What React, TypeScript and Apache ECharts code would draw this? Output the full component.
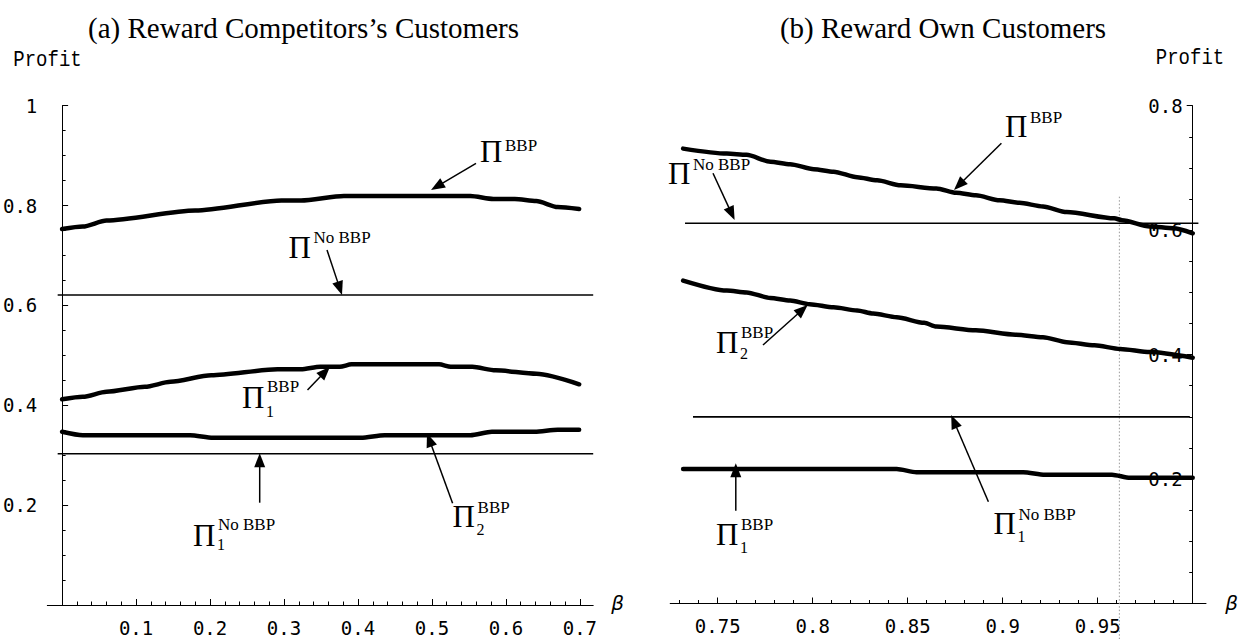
import React, { useEffect, useRef } from 'react';
import * as echarts from 'echarts';

// ---------- texts ----------
const leftTitle = '(a) Reward Competitors’s Customers';
const rightTitle = '(b) Reward Own Customers';
const yName = 'Profit';
const xName = 'β';

// ---------- tick values ----------
const leftXMajor = [0.1, 0.2, 0.3, 0.4, 0.5, 0.6, 0.7];
const leftXMinor = [0.02, 0.04, 0.06, 0.08, 0.12, 0.14, 0.16, 0.18, 0.22, 0.24, 0.26, 0.28, 0.32, 0.34, 0.36, 0.38, 0.42, 0.44, 0.46, 0.48, 0.52, 0.54, 0.56, 0.58, 0.62, 0.64, 0.66, 0.68];
const leftYMajor = [0.2, 0.4, 0.6, 0.8, 1];
const leftYMinor = [0.05, 0.1, 0.15, 0.25, 0.3, 0.35, 0.45, 0.5, 0.55, 0.65, 0.7, 0.75, 0.85, 0.9, 0.95];
const rightXMajor = [0.75, 0.8, 0.85, 0.9, 0.95];
const rightXMinor = [0.73, 0.74, 0.76, 0.77, 0.78, 0.79, 0.81, 0.82, 0.83, 0.84, 0.86, 0.87, 0.88, 0.89, 0.91, 0.92, 0.93, 0.94, 0.96, 0.97, 0.98, 0.99];
const rightYMajor = [0.2, 0.4, 0.6, 0.8];
const rightYMinor = [0.05, 0.1, 0.15, 0.25, 0.3, 0.35, 0.45, 0.5, 0.55, 0.65, 0.7, 0.75];

// ---------- axis ranges ----------
const leftXRange = [-0.02, 0.718];
const leftYRange = [0, 1];
const rightXRange = [0.725, 1.007];
const rightYRange = [0, 0.8];
const rightYAxisAt = 1.0;

// ---------- (a) Reward Competitors's Customers ----------
const aBBPx = [0, 0.028, 0.06, 0.18, 0.2965, 0.323, 0.381, 0.552, 0.583, 0.612, 0.641, 0.67, 0.699];
const aBBPy = [0.753, 0.758, 0.77, 0.79, 0.81, 0.81, 0.819, 0.819, 0.813, 0.813, 0.809, 0.797, 0.793];
const aBBP1x = [0, 0.028, 0.06, 0.112, 0.1465, 0.2017, 0.2912, 0.3228, 0.3491, 0.3755, 0.3912, 0.5097, 0.5255, 0.5545, 0.586, 0.6413, 0.699];
const aBBP1y = [0.412, 0.417, 0.427, 0.437, 0.447, 0.46, 0.472, 0.472, 0.477, 0.477, 0.482, 0.482, 0.477, 0.477, 0.47, 0.463, 0.442];
const aBBP2x = [0, 0.028, 0.173, 0.204, 0.404, 0.436, 0.552, 0.581, 0.639, 0.67, 0.699];
const aBBP2y = [0.347, 0.34, 0.34, 0.335, 0.335, 0.34, 0.34, 0.347, 0.347, 0.351, 0.351];
const aNoBBP = 0.621;
const aNoBBP1 = 0.303;
const aFlatSpan = [-0.006, 0.718];

// ---------- (b) Reward Own Customers ----------
const bBBPx = [0.7318, 0.7548, 0.7652, 0.7777, 0.7881, 0.8006, 0.811, 0.8234, 0.8339, 0.8463, 0.8651, 0.8755, 0.8859, 0.8984, 0.9088, 0.9212, 0.9337, 0.9587, 0.9628, 0.9774, 0.9898, 1.0];
const bBBPy = [0.731, 0.723, 0.721, 0.71, 0.706, 0.698, 0.694, 0.685, 0.68, 0.672, 0.667, 0.66, 0.656, 0.648, 0.644, 0.638, 0.629, 0.619, 0.616, 0.606, 0.603, 0.595];
const bBBP2x = [0.7318, 0.7548, 0.7652, 0.7777, 0.7881, 0.7984, 0.811, 0.8234, 0.8318, 0.8442, 0.8587, 0.8651, 0.8859, 0.9067, 0.9212, 0.9337, 0.9483, 0.9618, 0.9774, 1.0];
const bBBP2y = [0.519, 0.503, 0.5, 0.491, 0.487, 0.481, 0.476, 0.471, 0.466, 0.46, 0.451, 0.445, 0.439, 0.432, 0.428, 0.42, 0.415, 0.409, 0.404, 0.395];
const bBBP1x = [0.7318, 0.8442, 0.8546, 0.9108, 0.9222, 0.9575, 0.967, 1.0];
const bBBP1y = [0.216, 0.216, 0.211, 0.211, 0.207, 0.207, 0.202, 0.202];
const bNoBBP = 0.611;
const bNoBBPSpan = [0.7328, 1.003];
const bNoBBP1 = 0.3;
const bNoBBP1Span = [0.737, 0.9985];
const bDottedX = 0.9614;
const bDottedY = [0.6538, -0.06];

// ---------- layout (pixels) ----------
const gridA = { left: 39, top: 105.7, width: 554.2, height: 499.3 };
const gridB = { left: 670.2, top: 105.7, width: 535.8, height: 497.8 };

const TICK_FONT = 'DejaVu Sans Mono';
const SERIF = 'Liberation Serif';

// annotation labels: Π position [x, centerY], superscript / subscript [text, centerY]
const labels: any[] = [
  { pi: [480, 151.5], sup: ['BBP', 145.8] },
  { pi: [288.5, 247.5], sup: ['No BBP', 237.5] },
  { pi: [242, 397.5], sup: ['BBP', 386], sub: ['1', 411] },
  { pi: [193, 535], sup: ['No BBP', 524], sub: ['1', 544] },
  { pi: [452.6, 516], sup: ['BBP', 507.5], sub: ['2', 529] },
  { pi: [1005, 126.5], sup: ['BBP', 117.5] },
  { pi: [668, 173], sup: ['No BBP', 164] },
  { pi: [716, 342.5], sup: ['BBP', 332.5], sub: ['2', 353] },
  { pi: [716, 534], sup: ['BBP', 524], sub: ['1', 547] },
  { pi: [993.5, 523], sup: ['No BBP', 514], sub: ['1', 536] },
];
const SUP_DX = 25;
const SUB_DX = 24;

// arrows [x1, y1, x2(tip), y2(tip)]
const arrows = [
  [476, 163.3, 431, 190],
  [327, 250, 342, 295],
  [307.5, 390, 330, 366.7],
  [259.7, 502.7, 259.7, 453.3],
  [452.6, 503.3, 427, 433.3],
  [1001.4, 143.3, 954, 190],
  [713, 173.3, 734.6, 220],
  [763, 345, 807.7, 305],
  [735.8, 510.7, 735.8, 463.3],
  [988.4, 501.7, 951.2, 415],
];

function pairs(xs: number[], ys: number[]) {
  return xs.map((x, i) => [x, ys[i]]);
}

function thick(name: string, xs: number[], ys: number[], gi: number) {
  return {
    name, type: 'line', xAxisIndex: gi * 2, yAxisIndex: gi * 2,
    data: pairs(xs, ys), showSymbol: false, symbol: 'none',
    smooth: 0.25, smoothMonotone: 'x',
    lineStyle: { color: '#000', width: 4.5, cap: 'round', join: 'round' },
    silent: true, z: 3,
  };
}

function flat(name: string, span: number[], v: number, gi: number) {
  return {
    name, type: 'line', xAxisIndex: gi * 2, yAxisIndex: gi * 2,
    data: [[span[0], v], [span[1], v]], showSymbol: false, symbol: 'none',
    lineStyle: { color: '#000', width: 1.6 }, silent: true, z: 3,
  };
}

function txt(text: string, x: number, y: number, size: number, family: string, align = 'left', extra: any = {}, styleExtra: any = {}) {
  return {
    type: 'text', x, y, silent: true, z: 10, ...extra,
    style: {
      text, fill: '#000', fontSize: size, fontFamily: family,
      align, verticalAlign: 'middle', textAlign: align, textVerticalAlign: 'middle',
      ...styleExtra,
    },
  };
}

function arrowEls(a: number[]) {
  const [x1, y1, x2, y2] = a;
  const dx = x2 - x1, dy = y2 - y1;
  const len = Math.sqrt(dx * dx + dy * dy);
  const ux = dx / len, uy = dy / len;
  const hl = 14, hw = 5.5;
  const bx = x2 - ux * hl, by = y2 - uy * hl;
  return [
    { type: 'line', silent: true, z: 10, shape: { x1, y1, x2: bx + ux * 2, y2: by + uy * 2 }, style: { stroke: '#000', lineWidth: 1.5 } },
    { type: 'polygon', silent: true, z: 10, shape: { points: [[x2, y2], [bx - uy * hw, by + ux * hw], [bx + uy * hw, by - ux * hw]] }, style: { fill: '#000' } },
  ];
}

function xAxes(gi: number, range: number[], major: number[], minor: number[]) {
  const base = {
    type: 'value', gridIndex: gi, min: range[0], max: range[1], position: 'bottom',
    splitLine: { show: false },
  };
  return [
    {
      ...base,
      axisLine: { show: true, onZero: false, lineStyle: { color: '#000', width: 1 } },
      axisTick: { show: true, inside: true, length: 6, customValues: major, lineStyle: { color: '#000', width: 1 } },
      axisLabel: { show: true, customValues: major, margin: 13, color: '#000', fontFamily: TICK_FONT, fontSize: 19 },
    },
    {
      ...base,
      axisLine: { show: false, onZero: false },
      axisTick: { show: true, inside: true, length: 3.5, customValues: minor, lineStyle: { color: '#000', width: 1 } },
      axisLabel: { show: false },
    },
  ];
}

function yAxes(gi: number, range: number[], major: number[], minor: number[], right: boolean, offset: number) {
  const base: any = {
    type: 'value', gridIndex: gi, min: range[0], max: range[1],
    position: right ? 'right' : 'left', offset,
    splitLine: { show: false },
  };
  return [
    {
      ...base,
      axisLine: { show: true, onZero: !right, lineStyle: { color: '#000', width: 1 } },
      axisTick: { show: true, inside: true, length: 6, customValues: major, lineStyle: { color: '#000', width: 1 } },
      axisLabel: { show: true, inside: right, customValues: major, margin: 10, color: '#000', fontFamily: TICK_FONT, fontSize: 19 },
    },
    {
      ...base,
      axisLine: { show: true, onZero: !right, lineStyle: { color: '#000', opacity: 0 } },
      axisTick: { show: true, inside: true, length: 3.5, customValues: minor, lineStyle: { color: '#000', width: 1 } },
      axisLabel: { show: false },
    },
  ];
}

export default function App() {
  const ref = useRef<HTMLDivElement>(null);
  useEffect(() => {
    if (!ref.current) return;
    const chart = echarts.init(ref.current, null, { renderer: 'svg' });
    const rightOffset = -((rightXRange[1] - rightYAxisAt) / (rightXRange[1] - rightXRange[0])) * gridB.width;

    const graphic: any[] = [
      txt(leftTitle, 303.5, 28, 29, SERIF, 'center'),
      txt(rightTitle, 943, 28, 29, SERIF, 'center'),
      txt(yName, 47.5, 74.5, 19, 'Liberation Mono', 'center', { scaleY: 1.2, originX: 47.5, originY: 74.5 }),
      txt(yName, 1190, 73, 19, 'Liberation Mono', 'center', { scaleY: 1.2, originX: 1190, originY: 73 }),
      txt(xName, 617.5, 603, 20, 'DejaVu Sans', 'center', {}, { fontStyle: 'italic' }),
      txt(xName, 1231.5, 603, 20, 'DejaVu Sans', 'center', {}, { fontStyle: 'italic' }),
    ];
    labels.forEach((l) => {
      graphic.push(txt('Π', l.pi[0], l.pi[1], 31, SERIF));
      if (l.sup) graphic.push(txt(l.sup[0], l.pi[0] + SUP_DX, l.sup[1], 17, SERIF));
      if (l.sub) graphic.push(txt(l.sub[0], l.pi[0] + SUB_DX, l.sub[1], 16, SERIF));
    });
    arrows.forEach((a) => graphic.push(...arrowEls(a)));

    chart.setOption({
      animation: false,
      backgroundColor: '#fff',
      grid: [
        { ...gridA, containLabel: false },
        { ...gridB, containLabel: false },
      ],
      xAxis: [
        ...xAxes(0, leftXRange, leftXMajor, leftXMinor),
        ...xAxes(1, rightXRange, rightXMajor, rightXMinor),
      ],
      yAxis: [
        ...yAxes(0, leftYRange, leftYMajor, leftYMinor, false, 0),
        ...yAxes(1, rightYRange, rightYMajor, rightYMinor, true, rightOffset),
      ],
      series: [
        thick('Π BBP (a)', aBBPx, aBBPy, 0),
        thick('Π1 BBP (a)', aBBP1x, aBBP1y, 0),
        thick('Π2 BBP (a)', aBBP2x, aBBP2y, 0),
        flat('Π No BBP (a)', aFlatSpan, aNoBBP, 0),
        flat('Π1 No BBP (a)', aFlatSpan, aNoBBP1, 0),
        thick('Π BBP (b)', bBBPx, bBBPy, 1),
        thick('Π2 BBP (b)', bBBP2x, bBBP2y, 1),
        thick('Π1 BBP (b)', bBBP1x, bBBP1y, 1),
        flat('Π No BBP (b)', bNoBBPSpan, bNoBBP, 1),
        flat('Π1 No BBP (b)', bNoBBP1Span, bNoBBP1, 1),
        {
          name: 'threshold', type: 'line', xAxisIndex: 2, yAxisIndex: 2, clip: false,
          data: [[bDottedX, bDottedY[0]], [bDottedX, bDottedY[1]]], showSymbol: false, symbol: 'none',
          lineStyle: { color: '#999', width: 1, type: [1.5, 2] }, silent: true, z: 1,
        },
      ],
      graphic,
    });
    return () => chart.dispose();
  }, []);
  return <div ref={ref} style={{ position: 'absolute', left: 0, top: 0, width: 1239, height: 639, background: '#fff' }} />;
}
